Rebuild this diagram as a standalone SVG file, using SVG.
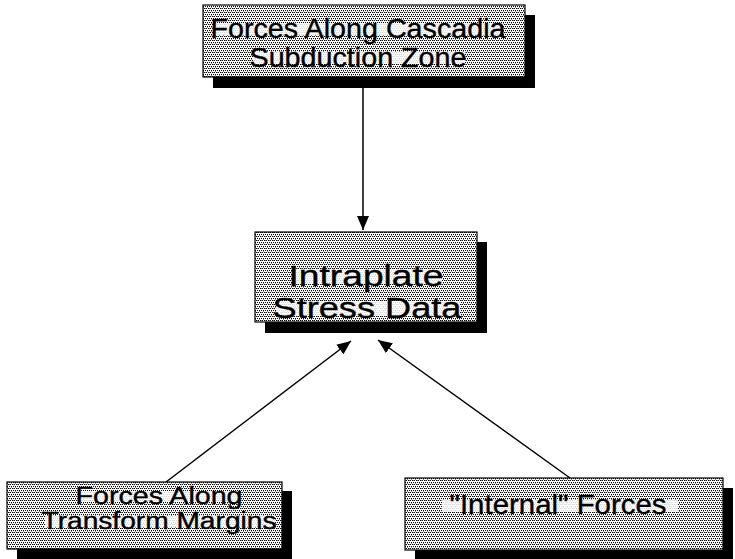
<svg xmlns="http://www.w3.org/2000/svg" width="735" height="559" viewBox="0 0 735 559">
<defs>
<pattern id="dots" width="4" height="4" patternUnits="userSpaceOnUse">
<rect width="4" height="4" fill="#ffffff"/>
<rect x="0" y="0" width="1" height="1" fill="#000"/>
<rect x="2" y="0" width="1" height="1" fill="#000"/>
<rect x="1" y="2" width="1" height="1" fill="#000"/>
<rect x="3" y="2" width="1" height="1" fill="#000"/>
<rect x="1" y="0" width="1" height="1" fill="#888"/>
<rect x="3" y="3" width="1" height="1" fill="#888"/>
</pattern>
<marker id="arrow" viewBox="0 0 14 12" refX="14" refY="6" markerWidth="14" markerHeight="12" markerUnits="userSpaceOnUse" orient="auto">
<path d="M0,0 L14,6 L0,12 Z" fill="#000"/>
</marker>
</defs>
<style>
.shadow{fill:#000}
.box{fill:url(#dots);stroke:#000;stroke-width:1.2}
.band{fill:#fff;opacity:0.85}
.label{font-family:"Liberation Sans",Arial,Helvetica,sans-serif;fill:#000;stroke:#000;stroke-width:0.4;text-anchor:middle}
.conn{stroke:#000;stroke-width:1.5;fill:none;marker-end:url(#arrow)}
</style>
<g id="connectors">
<line class="conn" x1="363" y1="88" x2="363" y2="230"/>
<line class="conn" x1="166" y1="482" x2="351" y2="341"/>
<line class="conn" x1="570" y1="478" x2="378" y2="340"/>
</g>
<g id="node-cascadia">
<rect class="shadow" x="213" y="15" width="322" height="73"/>
<rect class="box" x="203" y="5" width="322" height="72"/>
<rect class="band" x="215" y="23" width="288" height="12"/>
<rect class="band" x="253" y="52" width="212" height="12"/>
<text class="label" x="358" y="38" font-size="28" textLength="295" lengthAdjust="spacingAndGlyphs">Forces Along Cascadia</text>
<text class="label" x="358" y="67" font-size="28" textLength="217" lengthAdjust="spacingAndGlyphs">Subduction Zone</text>
</g>
<g id="node-intraplate">
<rect class="shadow" x="265" y="242" width="222" height="91"/>
<rect class="box" x="255" y="232" width="222" height="90"/>
<rect class="band" x="292" y="270" width="150" height="14"/>
<rect class="band" x="276" y="302" width="184" height="14"/>
<text class="label" x="366" y="286" font-size="30" textLength="155" lengthAdjust="spacingAndGlyphs">Intraplate</text>
<text class="label" x="367" y="318" font-size="30" textLength="189" lengthAdjust="spacingAndGlyphs">Stress Data</text>
</g>
<g id="node-transform">
<rect class="shadow" x="17" y="491" width="275" height="68"/>
<rect class="box" x="7" y="482" width="275" height="67"/>
<rect class="band" x="78" y="491" width="162" height="11"/>
<rect class="band" x="45" y="516" width="230" height="11"/>
<text class="label" x="159" y="504" font-size="23" textLength="167" lengthAdjust="spacingAndGlyphs">Forces Along</text>
<text class="label" x="159" y="529" font-size="23" textLength="235" lengthAdjust="spacingAndGlyphs">Transform Margins</text>
</g>
<g id="node-internal">
<rect class="shadow" x="415" y="488" width="318" height="72"/>
<rect class="box" x="405" y="478" width="318" height="72"/>
<rect class="band" x="442" y="500" width="236" height="12"/>
<text class="label" x="558" y="514" font-size="28" textLength="217" lengthAdjust="spacingAndGlyphs">"Internal" Forces</text>
</g>
</svg>
